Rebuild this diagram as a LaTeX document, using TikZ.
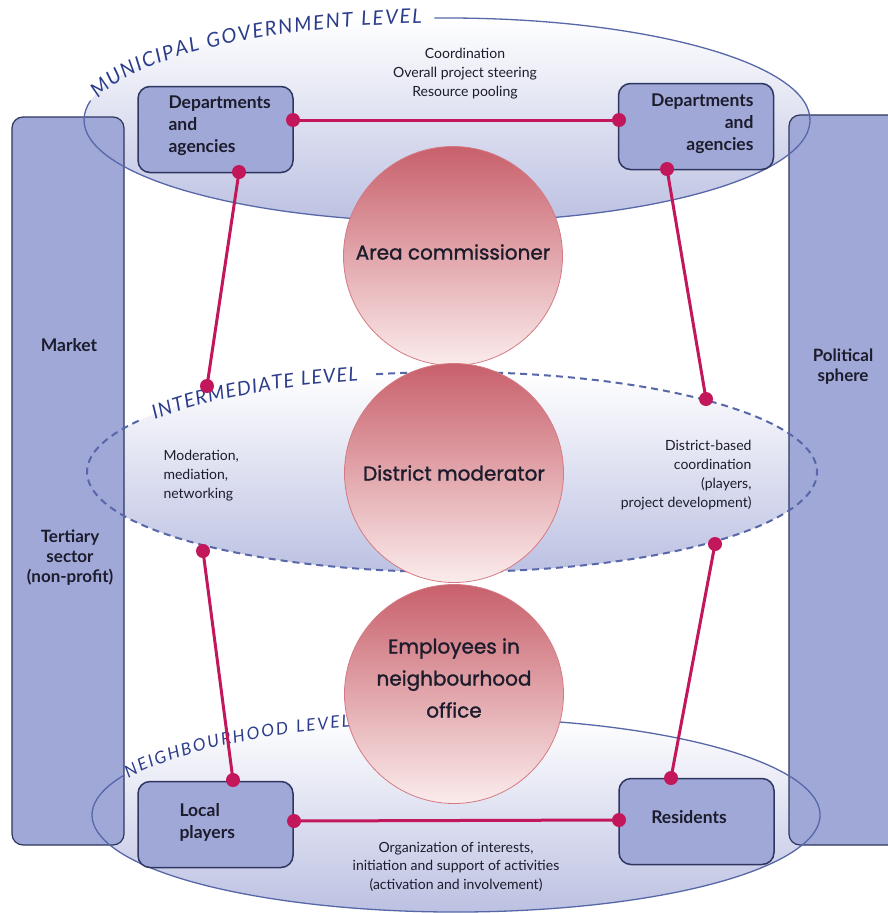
\documentclass[tikz,border=0pt]{standalone}
\usepackage{fontspec}
\setmainfont{Lato}
\newfontfamily\circfont{Poppins}[FakeBold=1.3]
\usetikzlibrary{decorations.text}

\definecolor{lav}{HTML}{A0A8D8}
\definecolor{navy}{HTML}{2E3660}
\definecolor{rim}{HTML}{5767A8}
\definecolor{lvltxt}{HTML}{2B3C8A}
\definecolor{crimson}{HTML}{C2185B}
\definecolor{rosetop}{HTML}{C8606B}
\definecolor{rosebot}{HTML}{FBECEC}
\definecolor{roserim}{HTML}{D57A84}
\definecolor{haze}{HTML}{BCC1E2}
\definecolor{ink}{HTML}{1C1C2C}

\newcommand\lvlface{\itshape\fontsize{20}{20}\selectfont}
\newcommand\lvlfacemid{\itshape\fontsize{19.5}{19.5}\selectfont}
\newcommand\lvlfacelow{\itshape\fontsize{17}{17}\selectfont}

\begin{document}
\begin{tikzpicture}[x=1pt,y=-1pt,
  pillar/.style={draw=navy, line width=1.2pt, fill=lav, rounded corners=11pt},
  unit/.style={draw=navy, line width=1.5pt, fill=lav, rounded corners=12pt,
    minimum width=155pt, minimum height=86pt},
  level/.style={top color=white, bottom color=haze},
  rimline/.style={draw=rim, line width=1.3pt},
  rimdash/.style={draw=rim, line width=2pt, dash pattern=on 7pt off 5pt},
  role/.style={circle, minimum size=219pt, draw=roserim, line width=0.8pt,
    top color=rosetop, bottom color=rosebot},
  roletext/.style={text=ink, font=\circfont\fontsize{20}{32}\selectfont, align=center},
  link/.style={draw=crimson, line width=3pt},
  knot/.style={fill=crimson},
  unittext/.style={font=\bfseries\fontsize{17.5}{22}\selectfont, text=ink},
  note/.style={font=\fontsize{14}{19}\selectfont, text=ink},
  lvltag/.style={decorate, decoration={text along path, text color=lvltxt,
    text align={fit to path}, raise=-5pt}}]

\useasboundingbox (0,0) rectangle (888,913);
\fill[white] (0,0) rectangle (888,913);

% shaded level ellipses
\path[level] (447,120) ellipse [x radius=363pt, y radius=102pt];
\path[level] (452,472) ellipse [x radius=365pt, y radius=100pt];
\path[level] (456,815) ellipse [x radius=364pt, y radius=97pt];

% side pillars
\node[pillar, minimum width=112pt, minimum height=728pt] (colL) at (68,481) {};
\node[pillar, minimum width=121pt, minimum height=730pt] (colR) at (849.5,480) {};

% ellipse outlines, interrupted by the level names
\draw[rimline] (447,120) ++(268:363 and 102)
  arc[start angle=268, end angle=551, x radius=363, y radius=102];
\path[lvltag, decoration={text={|\lvlface|MUNICIPAL GOVERNMENT LEVEL}}]
  (447,120) ++(194:363 and 102)
  arc[start angle=194, end angle=266, x radius=363, y radius=102];

\draw[rimdash] (452,472) ++(258:365 and 100)
  arc[start angle=258, end angle=571, x radius=365, y radius=100];
\path[lvltag, decoration={text={|\lvlfacemid|INTERMEDIATE LEVEL}}]
  (452,472) ++(215:365 and 100)
  arc[start angle=215, end angle=255, x radius=365, y radius=100];

\draw[rimline] (456,815) ++(255:364 and 97)
  arc[start angle=255, end angle=564, x radius=364, y radius=97];
\path[lvltag, decoration={text={|\lvlfacelow|NEIGHBOURHOOD LEVEL}}]
  (456,815) ++(205:364 and 97)
  arc[start angle=205, end angle=253, x radius=364, y radius=97];

% role circles
\node[role] (ac) at (453,256) {};
\node[role] (dm) at (454,473) {};
\node[role] (eno) at (454,694) {};
\node[roletext] (acT) at (453,252) {Area commissioner};
\node[roletext] (dmT) at (454,473) {District moderator};
\node[roletext] (enoT) at (454,678) {Employees in\\neighbourhood\\office};

% actor boxes
\node[unit] (dl) at (215.5,129.5) {};
\node[unit] (dr) at (696,126.5) {};
\node[unit] (lp) at (215.5,824.5) {};
\node[unit] (rs) at (696.5,821.5) {};

% connector end points
\coordinate (a1) at (293,120);  \coordinate (a2) at (619,120);
\coordinate (b1) at (239,172);  \coordinate (b2) at (207,386);
\coordinate (c1) at (667,169);  \coordinate (c2) at (706,399);
\coordinate (d1) at (203,551);  \coordinate (d2) at (233,780);
\coordinate (e1) at (715,544);  \coordinate (e2) at (671,778);
\coordinate (f1) at (294,821);  \coordinate (f2) at (619,820);

\foreach \p/\q in {a1/a2, b1/b2, c1/c2, d1/d2, e1/e2, f1/f2}{
  \draw[link] (\p) -- (\q);
  \fill[knot] (\p) circle (7pt);
  \fill[knot] (\q) circle (7pt);
}

% box labels
\node[unittext, anchor=west, align=left] (dlT) at (165,126) {Departments\\and\\agencies};
\node[unittext, anchor=east, align=right] (drT) at (757,123.5) {Departments\\and\\agencies};
\node[unittext, anchor=west, align=left] (lpT) at (176,822.5) {Local\\players};
\node[unittext] (rsT) at (689,817) {Residents};

% pillar labels
\node[unittext, align=center] (mkT) at (69,345) {Market};
\node[unittext, align=center, font=\bfseries\fontsize{17}{20}\selectfont] (tsT) at (70,558) {Tertiary\\sector\\(non-profit)};
\node[unittext, align=center, font=\bfseries\fontsize{17}{20}\selectfont] (psT) at (843,367) {Political\\sphere};

% level notes
\node[note, align=center] (topN) at (465,74) {Coordination\\Overall project steering\\Resource pooling};
\node[note, anchor=west, align=left] (midL) at (160,476) {Moderation,\\mediation,\\networking};
\node[note, anchor=east, align=right] (midR) at (755,475.5) {District-based\\coordination\\(players,\\project development)};
\node[note, align=center, font=\fontsize{14}{18.5}\selectfont] (botN) at (456,866.5) {Organization of interests,\\initiation and support of activities\\(activation and involvement)};

\end{tikzpicture}
\end{document}
